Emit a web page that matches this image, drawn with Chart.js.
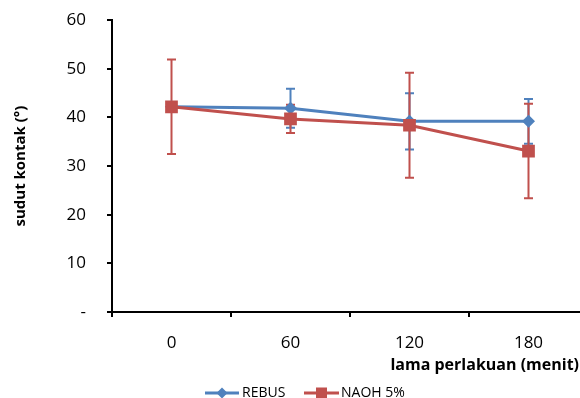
<!DOCTYPE html>
<html>
<head>
<meta charset="utf-8">
<script src="https://cdn.jsdelivr.net/npm/chart.js"></script>
<style>
  html, body { margin: 0; padding: 0; background: #fff; overflow: hidden; width: 580px; height: 398px; }
  canvas { display: block; margin-top: -11px; }
</style>
</head>
<body>
<canvas id="myChart" width="597" height="409"></canvas>
<script>
// data
const categories = ["0", "60", "120", "180"];
const rebusValues = [42.2, 41.9, 39.2, 39.2];
const rebusErrors = [0, 4.0, 5.8, 4.6];
const naohValues = [42.2, 39.7, 38.4, 33.1];
const naohErrors = [9.7, 2.9, 10.8, 9.7];
const yTicks = [0, 10, 20, 30, 40, 50, 60];

const blue = "#4F81BD";
const red = "#C0504D";
const fontName = "'Open Sans', sans-serif";
const shift = 11; // canvas is pulled up by this much (tick padding pushes the top down)

// error bars, drawn from the scales
const errorBars = {
    id: "errorBars",
    beforeDatasetsDraw(chart) {
        const ctx = chart.ctx;
        const x = chart.scales.x;
        const y = chart.scales.y;
        chart.data.datasets.forEach(ds => {
            ctx.save();
            ctx.strokeStyle = ds.borderColor;
            ctx.lineWidth = 2;
            ds.values.forEach((v, i) => {
                const e = ds.errors[i];
                if (!e) return;
                const px = x.getPixelForValue(i);
                const top = y.getPixelForValue(v + e);
                const bot = y.getPixelForValue(v - e);
                ctx.beginPath();
                ctx.moveTo(px, top); ctx.lineTo(px, bot);
                ctx.moveTo(px - 4.5, top); ctx.lineTo(px + 4.5, top);
                ctx.moveTo(px - 4.5, bot); ctx.lineTo(px + 4.5, bot);
                ctx.stroke();
            });
            ctx.restore();
        });
    }
};

// x axis title + legend
const extras = {
    id: "extras",
    afterDraw(chart) {
        const ctx = chart.ctx;
        ctx.save();
        ctx.translate(0, shift);
        ctx.fillStyle = "#000";
        ctx.font = "bold 16px " + fontName;
        ctx.textAlign = "right";
        ctx.textBaseline = "middle";
        ctx.fillText("lama perlakuan (menit)", 579, 365);

        const ly = 393;
        ctx.font = "14px " + fontName;
        ctx.textAlign = "left";
        // REBUS
        ctx.strokeStyle = blue; ctx.lineWidth = 3;
        ctx.beginPath(); ctx.moveTo(205, ly); ctx.lineTo(239, ly); ctx.stroke();
        ctx.fillStyle = blue;
        ctx.beginPath();
        ctx.moveTo(222, ly - 5.5); ctx.lineTo(227.5, ly); ctx.lineTo(222, ly + 5.5); ctx.lineTo(216.5, ly);
        ctx.closePath(); ctx.fill();
        ctx.fillStyle = "#000";
        ctx.fillText(chart.data.datasets[0].label, 242, ly);
        // NAOH
        ctx.strokeStyle = red;
        ctx.beginPath(); ctx.moveTo(304, ly); ctx.lineTo(339, ly); ctx.stroke();
        ctx.fillStyle = red;
        ctx.fillRect(316, ly - 5.5, 11, 11);
        ctx.fillStyle = "#000";
        ctx.fillText(chart.data.datasets[1].label, 341, ly);
        ctx.restore();
    }
};

new Chart(document.getElementById("myChart"), {
    type: "line",
    data: {
        labels: categories,
        datasets: [{
            label: "REBUS",
            data: rebusValues,
            values: rebusValues,
            errors: rebusErrors,
            borderColor: blue,
            backgroundColor: blue,
            borderWidth: 3,
            pointStyle: "rectRot",
            pointRadius: 6.5,
            pointBorderWidth: 0,
            order: 1
        }, {
            label: "NAOH 5%",
            data: naohValues,
            values: naohValues,
            errors: naohErrors,
            borderColor: red,
            backgroundColor: red,
            borderWidth: 3,
            pointStyle: "rect",
            pointRadius: 9,
            pointBorderWidth: 0,
            order: 0
        }]
    },
    options: {
        responsive: false,
        animation: false,
        layout: { padding: 0 },
        plugins: { legend: { display: false }, tooltip: { enabled: false } },
        scales: {
            x: {
                offset: true,
                grid: { offset: true, drawOnChartArea: false, tickLength: 5, color: "#000", lineWidth: 2 },
                border: { color: "#000", width: 2 },
                ticks: { color: "#000", padding: 16, font: { family: fontName, size: 17 } },
                afterFit: s => { s.height = 86; }
            },
            y: {
                min: 0,
                max: 60,
                afterBuildTicks: s => { s.ticks = yTicks.map(v => ({ value: v })); },
                grid: { drawOnChartArea: false, tickLength: 5, color: "#000", lineWidth: 2 },
                border: { color: "#000", width: 2 },
                ticks: {
                    color: "#000", padding: 21,
                    font: { family: fontName, size: 17 },
                    callback: v => v === 0 ? "-" : v
                },
                title: {
                    display: true, text: "sudut kontak (°)", color: "#000",
                    font: { family: fontName, size: 15, weight: "bold" },
                    padding: { top: 12, bottom: 0 }
                },
                afterFit: s => { s.width = 112; }
            }
        }
    },
    plugins: [errorBars, extras]
});
</script>
</body>
</html>
